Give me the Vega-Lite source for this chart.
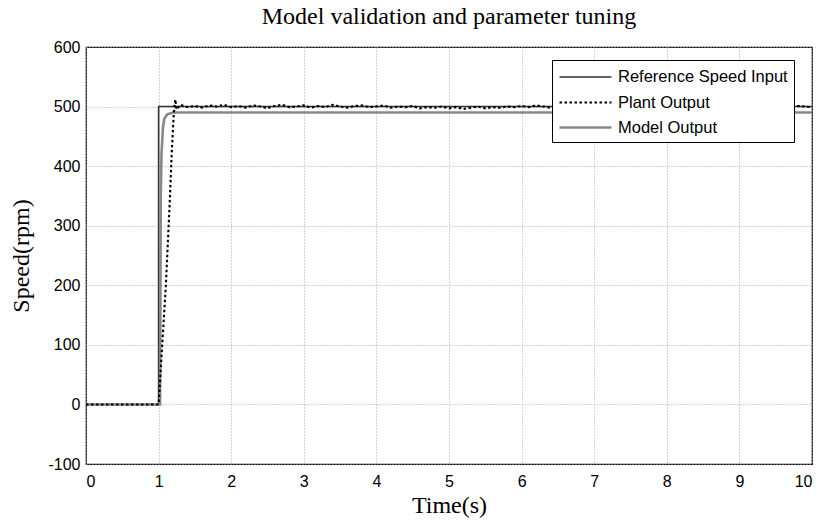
{
  "$schema": "https://vega.github.io/schema/vega-lite/v6.json",
  "width": 726,
  "height": 417,
  "autosize": {"type": "none"},
  "padding": {"left": 86, "top": 47, "right": 12, "bottom": 59},
  "background": "white",
  "title": {"text": "Model validation and parameter tuning", "font": "Liberation Serif", "fontSize": 24, "fontWeight": "normal", "color": "black", "offset": 10},
  "config": {
    "view": {"stroke": "black", "strokeWidth": 1.2},
    "axis": {
      "labelFont": "Liberation Sans", "labelFontSize": 16, "labelColor": "black",
      "titleFont": "Liberation Serif", "titleFontSize": 24, "titleFontWeight": "normal", "titleColor": "black",
      "domain": false, "ticks": false,
      "gridColor": "#a8a8a8", "gridDash": [1, 2], "gridWidth": 1, "gridOpacity": 1
    }
  },
  "data": {"values": [
    {"t": 0, "v": 0, "s": "Reference Speed Input"},
    {"t": 1, "v": 0, "s": "Reference Speed Input"},
    {"t": 1, "v": 500, "s": "Reference Speed Input"},
    {"t": 10, "v": 500, "s": "Reference Speed Input"},
    {"t": 0, "v": 0, "s": "Model Output"},
    {"t": 1.02, "v": 0, "s": "Model Output"},
    {"t": 1.03, "v": 350, "s": "Model Output"},
    {"t": 1.04, "v": 420, "s": "Model Output"},
    {"t": 1.06, "v": 465, "s": "Model Output"},
    {"t": 1.08, "v": 480, "s": "Model Output"},
    {"t": 1.12, "v": 487, "s": "Model Output"},
    {"t": 1.2, "v": 490, "s": "Model Output"},
    {"t": 10, "v": 490, "s": "Model Output"},
    {"t": 0, "v": 0, "s": "Plant Output"},
    {"t": 1.0, "v": 0, "s": "Plant Output"},
    {"t": 1.02, "v": 40, "s": "Plant Output"},
    {"t": 1.05, "v": 100, "s": "Plant Output"},
    {"t": 1.1, "v": 200, "s": "Plant Output"},
    {"t": 1.15, "v": 330, "s": "Plant Output"},
    {"t": 1.18, "v": 420, "s": "Plant Output"},
    {"t": 1.21, "v": 490, "s": "Plant Output"},
    {"t": 1.23, "v": 512, "s": "Plant Output"},
    {"t": 1.25, "v": 495, "s": "Plant Output"},
    {"t": 1.3, "v": 503, "s": "Plant Output"},
    {"t": 1.4, "v": 499, "s": "Plant Output"},
    {"t": 1.5, "v": 501, "s": "Plant Output"},
    {"t": 1.6, "v": 498, "s": "Plant Output"},
    {"t": 1.7, "v": 502, "s": "Plant Output"},
    {"t": 1.8, "v": 500, "s": "Plant Output"},
    {"t": 1.9, "v": 503, "s": "Plant Output"},
    {"t": 2.0, "v": 499, "s": "Plant Output"},
    {"t": 2.1, "v": 501, "s": "Plant Output"},
    {"t": 2.2, "v": 498, "s": "Plant Output"},
    {"t": 2.3, "v": 502, "s": "Plant Output"},
    {"t": 2.4, "v": 500, "s": "Plant Output"},
    {"t": 2.5, "v": 497, "s": "Plant Output"},
    {"t": 2.6, "v": 501, "s": "Plant Output"},
    {"t": 2.7, "v": 503, "s": "Plant Output"},
    {"t": 2.8, "v": 499, "s": "Plant Output"},
    {"t": 2.9, "v": 500, "s": "Plant Output"},
    {"t": 3.0, "v": 502, "s": "Plant Output"},
    {"t": 3.1, "v": 498, "s": "Plant Output"},
    {"t": 3.2, "v": 501, "s": "Plant Output"},
    {"t": 3.3, "v": 499, "s": "Plant Output"},
    {"t": 3.4, "v": 503, "s": "Plant Output"},
    {"t": 3.5, "v": 500, "s": "Plant Output"},
    {"t": 3.6, "v": 498, "s": "Plant Output"},
    {"t": 3.7, "v": 501, "s": "Plant Output"},
    {"t": 3.8, "v": 502, "s": "Plant Output"},
    {"t": 3.9, "v": 499, "s": "Plant Output"},
    {"t": 4.0, "v": 500, "s": "Plant Output"},
    {"t": 4.1, "v": 502, "s": "Plant Output"},
    {"t": 4.2, "v": 498, "s": "Plant Output"},
    {"t": 4.3, "v": 500, "s": "Plant Output"},
    {"t": 4.4, "v": 499, "s": "Plant Output"},
    {"t": 4.5, "v": 501, "s": "Plant Output"},
    {"t": 4.6, "v": 497, "s": "Plant Output"},
    {"t": 4.7, "v": 499, "s": "Plant Output"},
    {"t": 4.8, "v": 498, "s": "Plant Output"},
    {"t": 4.9, "v": 500, "s": "Plant Output"},
    {"t": 5.0, "v": 497, "s": "Plant Output"},
    {"t": 5.1, "v": 499, "s": "Plant Output"},
    {"t": 5.2, "v": 496, "s": "Plant Output"},
    {"t": 5.3, "v": 498, "s": "Plant Output"},
    {"t": 5.4, "v": 500, "s": "Plant Output"},
    {"t": 5.5, "v": 497, "s": "Plant Output"},
    {"t": 5.6, "v": 499, "s": "Plant Output"},
    {"t": 5.7, "v": 498, "s": "Plant Output"},
    {"t": 5.8, "v": 500, "s": "Plant Output"},
    {"t": 5.9, "v": 499, "s": "Plant Output"},
    {"t": 6.0, "v": 501, "s": "Plant Output"},
    {"t": 6.1, "v": 499, "s": "Plant Output"},
    {"t": 6.2, "v": 502, "s": "Plant Output"},
    {"t": 6.3, "v": 500, "s": "Plant Output"},
    {"t": 6.4, "v": 498, "s": "Plant Output"},
    {"t": 6.5, "v": 501, "s": "Plant Output"},
    {"t": 6.6, "v": 503, "s": "Plant Output"},
    {"t": 6.7, "v": 499, "s": "Plant Output"},
    {"t": 6.8, "v": 500, "s": "Plant Output"},
    {"t": 6.9, "v": 502, "s": "Plant Output"},
    {"t": 7.0, "v": 499, "s": "Plant Output"},
    {"t": 7.1, "v": 501, "s": "Plant Output"},
    {"t": 7.2, "v": 498, "s": "Plant Output"},
    {"t": 7.3, "v": 500, "s": "Plant Output"},
    {"t": 7.4, "v": 502, "s": "Plant Output"},
    {"t": 7.5, "v": 499, "s": "Plant Output"},
    {"t": 7.6, "v": 501, "s": "Plant Output"},
    {"t": 7.7, "v": 500, "s": "Plant Output"},
    {"t": 7.8, "v": 498, "s": "Plant Output"},
    {"t": 7.9, "v": 502, "s": "Plant Output"},
    {"t": 8.0, "v": 500, "s": "Plant Output"},
    {"t": 8.1, "v": 499, "s": "Plant Output"},
    {"t": 8.2, "v": 501, "s": "Plant Output"},
    {"t": 8.3, "v": 503, "s": "Plant Output"},
    {"t": 8.4, "v": 499, "s": "Plant Output"},
    {"t": 8.5, "v": 500, "s": "Plant Output"},
    {"t": 8.6, "v": 498, "s": "Plant Output"},
    {"t": 8.7, "v": 501, "s": "Plant Output"},
    {"t": 8.8, "v": 502, "s": "Plant Output"},
    {"t": 8.9, "v": 499, "s": "Plant Output"},
    {"t": 9.0, "v": 500, "s": "Plant Output"},
    {"t": 9.1, "v": 502, "s": "Plant Output"},
    {"t": 9.2, "v": 498, "s": "Plant Output"},
    {"t": 9.3, "v": 501, "s": "Plant Output"},
    {"t": 9.4, "v": 499, "s": "Plant Output"},
    {"t": 9.5, "v": 500, "s": "Plant Output"},
    {"t": 9.6, "v": 502, "s": "Plant Output"},
    {"t": 9.7, "v": 498, "s": "Plant Output"},
    {"t": 9.8, "v": 501, "s": "Plant Output"},
    {"t": 9.9, "v": 500, "s": "Plant Output"},
    {"t": 10.0, "v": 499, "s": "Plant Output"}
  ]},
  "mark": {"type": "line", "clip": true},
  "encoding": {
    "x": {"field": "t", "type": "quantitative", "title": "Time(s)", "scale": {"domain": [0, 10], "nice": false},
          "axis": {"values": [0,1,2,3,4,5,6,7,8,9,10], "labelPadding": 9, "titlePadding": 4}},
    "y": {"field": "v", "type": "quantitative", "title": "Speed(rpm)", "scale": {"domain": [-100, 600], "nice": false},
          "axis": {"values": [-100,0,100,200,300,400,500,600], "labelPadding": 6, "titlePadding": 14,
                   "labelExpr": "datum.value < 0 ? '-' + abs(datum.value) : datum.label"}},
    "color": {"field": "s", "type": "nominal", "title": null,
              "scale": {"domain": ["Reference Speed Input", "Plant Output", "Model Output"], "range": ["#333333", "#000000", "#888888"]},
              "legend": {"orient": "none", "legendX": 466, "legendY": 13, "symbolType": "M-2.6,0H2.6", "symbolSize": 400, "symbolOffset": 16,
                         "labelFont": "Liberation Sans", "labelFontSize": 16.5, "labelColor": "black", "labelOffset": 21, "labelLimit": 300,
                         "fillColor": "white", "strokeColor": "black", "padding": 6, "rowPadding": 5, "symbolStrokeWidth": 1.5}},
    "strokeDash": {"field": "s", "type": "nominal", "title": null,
                   "scale": {"domain": ["Reference Speed Input", "Plant Output", "Model Output"], "range": [[1, 0], [2.5, 2.5], [1, 0]]}},
    "strokeWidth": {"field": "s", "type": "nominal", "title": null,
                    "scale": {"domain": ["Reference Speed Input", "Plant Output", "Model Output"], "range": [1.6, 2.6, 1]}}
  }
}
